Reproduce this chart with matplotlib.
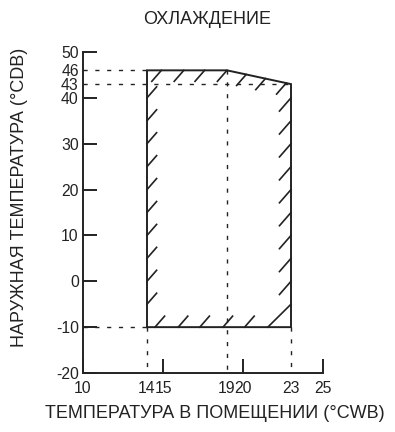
import matplotlib
matplotlib.use("Agg")
import matplotlib.pyplot as plt

plt.rcParams['font.family'] = ['Liberation Sans', 'DejaVu Sans']

# Operating envelope (indoor WB, outdoor DB)
env_x = [14, 14, 19, 23, 23, 14]
env_y = [-10, 46, 46, 43, -10, -10]

x_major = [10, 15, 20, 25]
x_minor = [14, 19, 23]
y_major = [-20, -10, 0, 10, 20, 30, 40, 50]
y_minor = [43, 46]

# hatch stroke anchor positions
left_hatch_y = [-5, 0, 5, 10, 15, 20, 25, 30, 35, 40]
right_hatch_y = [0, 5, 10, 15, 20, 25, 30, 35, 40]
bottom_hatch_x = [14.5, 15.95, 17.3, 18.75, 20.1]
top_hatch_x = [14.9, 16.3, 17.6, 19.0, 20.2, 21.4, 22.7]

title = "ОХЛАЖДЕНИЕ"
xlabel = "ТЕМПЕРАТУРА В ПОМЕЩЕНИИ (°CWB)"
ylabel = "НАРУЖНАЯ ТЕМПЕРАТУРА (°CDB)"

W, H = 395, 432
fig = plt.figure(figsize=(W / 100, H / 100), dpi=100)
ax = fig.add_axes([83 / W, 1 - 373 / H, (323 - 83) / W, (373 - 52) / H])
ax.set_xlim(10, 25)
ax.set_ylim(-20, 50)

col = '#222222'
lw = 1.4
# stroke vector in data units
dx, dy = 0.6, 2.4

def top_y(x):
    if x <= 19:
        return 46
    return 46 + (43 - 46) * (x - 19) / (23 - 19)

ax.plot(env_x, env_y, color=col, lw=lw, solid_joinstyle='miter', clip_on=False)
for y in left_hatch_y:
    ax.plot([14, 14 + dx], [y, y + dy], color=col, lw=1.2)
for y in right_hatch_y:
    ax.plot([23 - dx * 1.2, 23], [y - dy * 1.2, y], color=col, lw=1.2)
for x in bottom_hatch_x:
    ax.plot([x, x + dx], [-10, -10 + dy], color=col, lw=1.2)
# corner stroke bottom-right
ax.plot([21.55, 23], [-10, -5], color=col, lw=1.2)
for x in top_hatch_x:
    yt = top_y(x)
    ax.plot([x - dx, x], [yt - dy, yt], color=col, lw=1.2)

dash = dict(color=col, lw=1.0, linestyle=(0, (3, 5.5)))
ax.plot([10, 14], [46, 46], **dash)
ax.plot([10, 23], [43, 43], **dash)
ax.plot([10, 14], [-10, -10], **dash)
ax.plot([14, 14], [-10, -20], **dash)
ax.plot([19, 19], [46, -20], **dash)
ax.plot([23, 23], [-10, -20], **dash)

for s in ['top', 'right']:
    ax.spines[s].set_visible(False)
for s in ['left', 'bottom']:
    ax.spines[s].set_linewidth(1.4)
    ax.spines[s].set_color(col)

ax.set_xticks(x_major)
ax.set_xticks(x_minor, minor=True)
ax.set_yticks(y_major)
ax.set_yticks(y_minor, minor=True)
ax.set_xticklabels([str(v) for v in x_major])
ax.set_xticklabels([str(v) for v in x_minor], minor=True)
ax.set_yticklabels([str(v) for v in y_major])
ax.set_yticklabels([str(v) for v in y_minor], minor=True)
ax.tick_params(which='major', direction='in', length=10, width=1.4, color=col,
               labelsize=11.3, labelcolor=col)
ax.tick_params(which='minor', length=0, labelsize=11.3, labelcolor=col)
ax.tick_params(axis='x', which='both', pad=6)
ax.tick_params(axis='y', which='both', pad=3)

fig.text(207 / W, 1 - 20 / H, title, ha='center', va='center', fontsize=13, color=col)
fig.text(215 / W, 1 - 413 / H, xlabel, ha='center', va='center', fontsize=13, color=col)
fig.text(20 / W, 1 - 197 / H, ylabel, ha='center', va='center', rotation=90,
         fontsize=13, color=col)

fig.savefig('out.png', dpi=100)
